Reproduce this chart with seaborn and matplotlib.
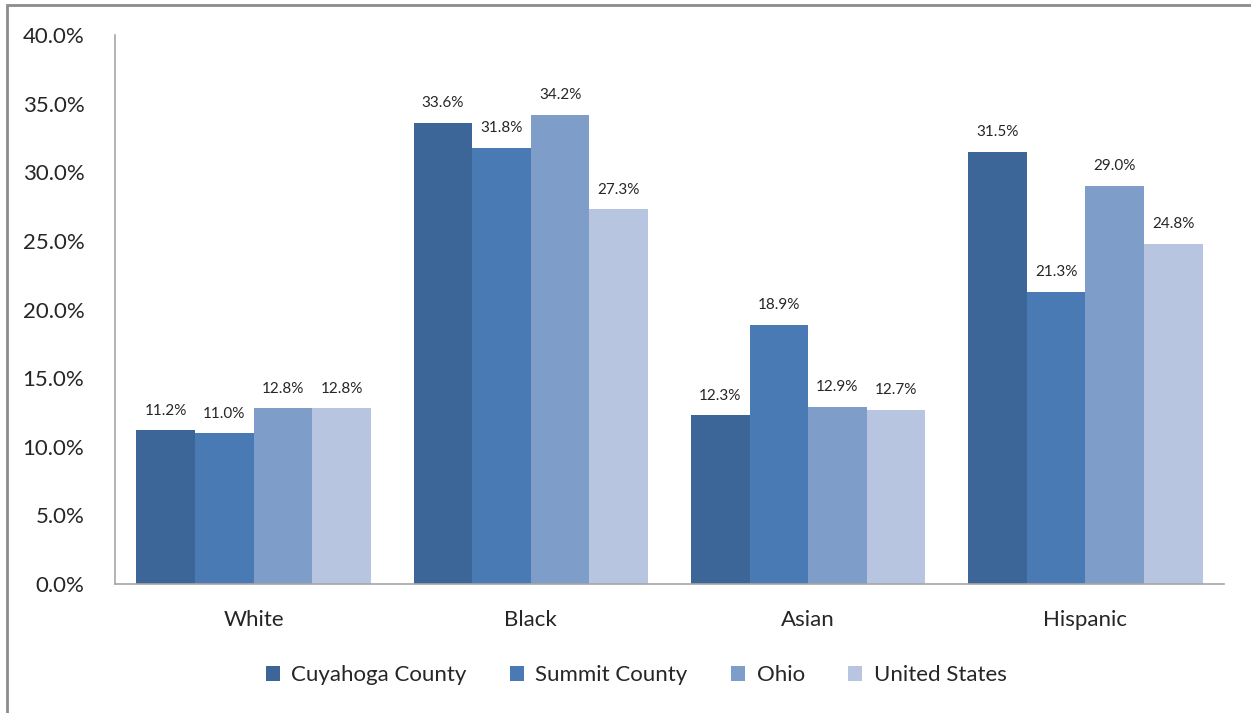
import matplotlib
matplotlib.use("Agg")
import matplotlib.pyplot as plt
import seaborn as sns
import pandas as pd
from matplotlib.patches import Rectangle
from matplotlib.ticker import FuncFormatter

categories = ["White", "Black", "Asian", "Hispanic"]
series = ["Cuyahoga County", "Summit County", "Ohio", "United States"]
cuyahoga = [11.2, 33.6, 12.3, 31.5]
summit = [11.0, 31.8, 18.9, 21.3]
ohio = [12.8, 34.2, 12.9, 29.0]
united_states = [12.8, 27.3, 12.7, 24.8]
colors = ["#3C6697", "#4A7AB4", "#7F9DC9", "#B7C5E0"]

rows = []
for name, vals in zip(series, [cuyahoga, summit, ohio, united_states]):
    for c, v in zip(categories, vals):
        rows.append({"Group": c, "Series": name, "Value": v / 100.0})
df = pd.DataFrame(rows)

sns.set_theme(style="white")
plt.rcParams["font.family"] = ["Lato", "DejaVu Sans"]

fig = plt.figure(figsize=(12.51, 7.13), dpi=100)
ax = fig.add_axes([115/1251, 1-584/713, (1224-115)/1251, (584-35)/713])

sns.barplot(data=df, x="Group", y="Value", hue="Series", order=categories,
            hue_order=series, palette=colors, width=0.845, saturation=1,
            edgecolor="none", linewidth=0, ax=ax, errorbar=None)

for cont in ax.containers:
    ax.bar_label(cont, labels=[f"{b.get_height()*100:.1f}%" for b in cont],
                 padding=9, fontsize=11, color="#262626")

ax.set_ylim(0, 0.40)
ax.set_yticks([i*0.05 for i in range(9)])
ax.yaxis.set_major_formatter(FuncFormatter(lambda v, p: f"{v*100:.1f}%"))
ax.set_xlabel("")
ax.set_ylabel("")
ax.tick_params(axis="y", length=0, pad=22, labelsize=16, labelcolor="#262626")
ax.tick_params(axis="x", length=0, pad=19, labelsize=16, labelcolor="#262626")
for s in ["top", "right"]:
    ax.spines[s].set_visible(False)
for s in ["left", "bottom"]:
    ax.spines[s].set_color("#A6A6A6")
    ax.spines[s].set_linewidth(1.2)
ax.grid(False)

leg = ax.legend(loc="center", bbox_to_anchor=(636/1251, 1-675/713),
                bbox_transform=fig.transFigure, ncol=4, frameon=False,
                fontsize=16, handlelength=0.65, handleheight=0.65,
                handletextpad=0.5, columnspacing=1.95)
for t in leg.get_texts():
    t.set_color("#262626")

fig.add_artist(Rectangle((7/1251, -0.1), 1.2, 1 - 5/713 + 0.1,
                         transform=fig.transFigure, fill=False,
                         edgecolor="#8C8C8C", linewidth=2))

fig.savefig("out.png", dpi=100)
